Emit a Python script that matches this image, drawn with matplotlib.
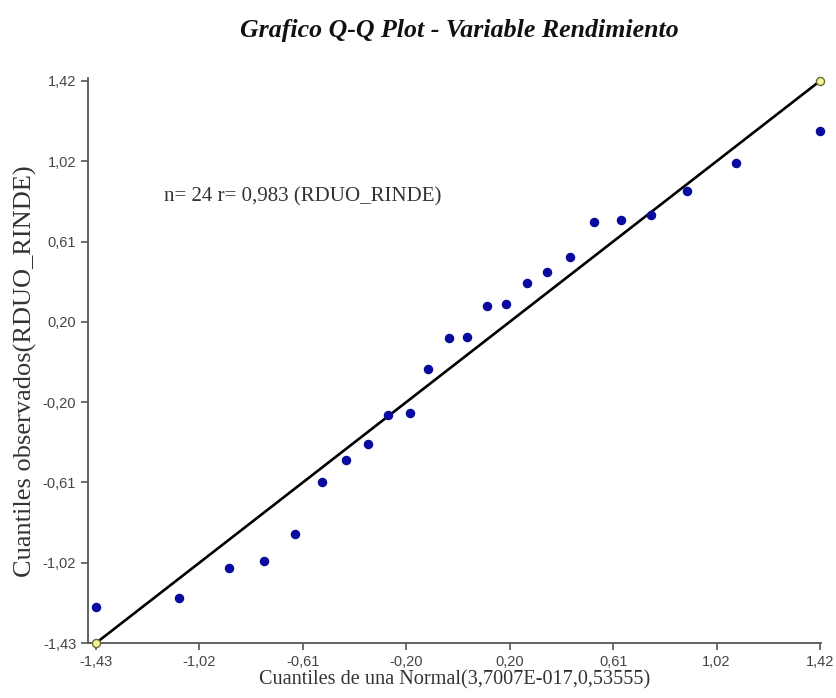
import numpy as np
import matplotlib
matplotlib.use("Agg")
import matplotlib.pyplot as plt

q_normal = [-1.430, -1.105, -0.908, -0.768, -0.646, -0.542, -0.447, -0.359,
            -0.280, -0.195, -0.123, -0.042, 0.031, 0.109, 0.183, 0.267,
            0.345, 0.435, 0.529, 0.635, 0.756, 0.898, 1.090, 1.420]
q_obs = [-1.246, -1.200, -1.048, -1.014, -0.879, -0.613, -0.503, -0.421,
         -0.272, -0.265, -0.042, 0.117, 0.123, 0.281, 0.288, 0.397,
         0.451, 0.528, 0.705, 0.714, 0.739, 0.862, 1.004, 1.168]

# reference line endpoints
line_x = [-1.43, 1.42]
line_y = [-1.43, 1.42]

tick_vals = np.linspace(-1.43, 1.42, 8)
tick_labels = ["-1,43", "-1,02", "-0,61", "-0,20", "0,20", "0,61", "1,02", "1,42"]

fig = plt.figure(figsize=(8.37, 6.98), dpi=100)
ax = fig.add_axes([88/837, 1-643/698, (821-88)/837, (643-78)/698])

ax.plot(line_x, line_y, color="black", lw=1.9, zorder=2)
ax.scatter(q_normal, q_obs, s=34, color="#0a0a9e", zorder=3, clip_on=False)
ax.scatter(line_x, line_y, s=34, facecolor="#f4f49a", edgecolor="#6b6b3a",
           lw=1.0, zorder=4, clip_on=False)

ax.set_xlim(-1.4615, 1.424)
ax.set_ylim(-1.43, 1.435)

ax.set_xticks(tick_vals)
ax.set_xticklabels(tick_labels)
ax.set_yticks(tick_vals)
ax.set_yticklabels(tick_labels)

for s in ["top", "right"]:
    ax.spines[s].set_visible(False)
for s in ["left", "bottom"]:
    ax.spines[s].set_color("#555555")
    ax.spines[s].set_linewidth(1.3)
ax.tick_params(colors="#555555", length=5, width=1.2,
               labelsize=10.5, labelcolor="#444444")
for lab in ax.get_xticklabels() + ax.get_yticklabels():
    lab.set_family("Liberation Sans")

ax.set_xlabel("Cuantiles de una Normal(3,7007E-017,0,53555)",
              family="Liberation Serif", fontsize=14.6, color="#333333", labelpad=1)
fig.text(25/837, 1-371/698, "Cuantiles observados(RDUO_RINDE)",
         family="Liberation Serif", fontsize=19, color="#333333",
         rotation=90, ha="center", va="center")

ax.text(-1.163, 0.83, "n= 24 r= 0,983 (RDUO_RINDE)", family="Liberation Serif",
        fontsize=15, color="#333333", ha="left", va="center")

fig.text(459/837, 1-31/698, "Grafico Q-Q Plot - Variable Rendimiento",
         family="Liberation Serif", fontsize=18.6, fontweight="bold",
         fontstyle="italic", ha="center", va="center", color="#111111")

fig.savefig("out.png", dpi=100)
